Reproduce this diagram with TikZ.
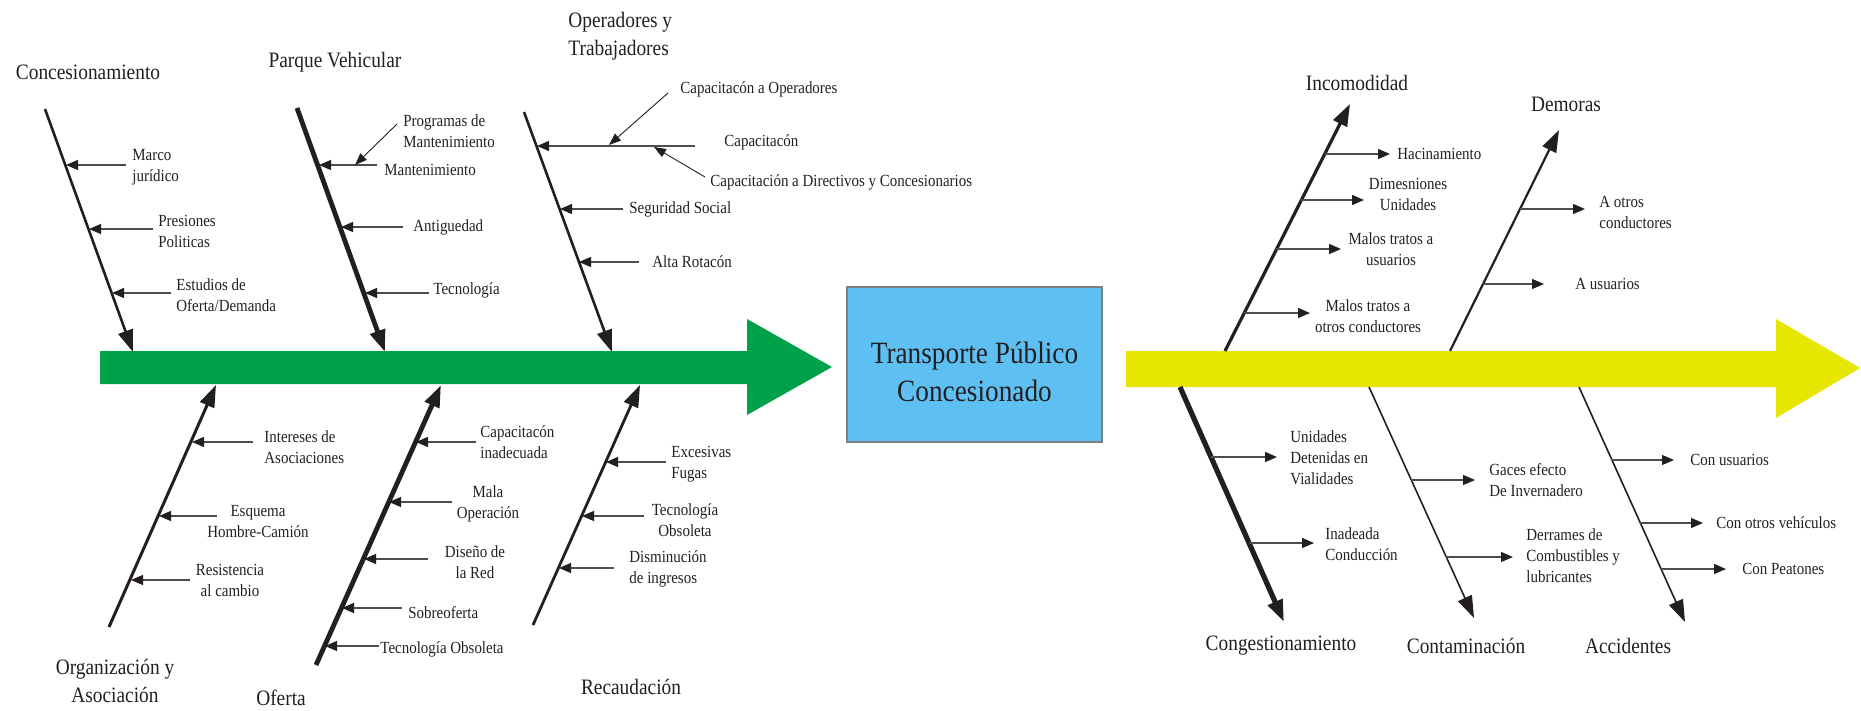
\documentclass[tikz,border=0pt]{standalone}
\usepackage{fontspec}
\setmainfont{Liberation Serif}[FakeStretch=0.88]
\usetikzlibrary{arrows.meta}
\definecolor{ink}{HTML}{231F20}
\definecolor{grn}{HTML}{00A14B}
\definecolor{ylw}{HTML}{E6E600}
\definecolor{bxblue}{HTML}{5EC0F2}
\definecolor{subgray}{HTML}{4D4D4D}
\begin{document}
\begin{tikzpicture}[x=0.5pt,y=-0.5pt,
  bone/.style={draw=ink,-{Triangle[length=11pt,width=7.5pt]}},
  twig/.style={draw=subgray,line width=0.6pt,-{Triangle[length=6pt,width=5pt,color=ink]}},
  pointer/.style={draw=ink,line width=0.45pt,-{Triangle[length=6pt,width=4.5pt]}},
  lbl/.style={font=\fontsize{8.5}{10.5}\selectfont,text=ink,inner sep=0pt},
  lw/.style={lbl,anchor=west,align=left},
  lc/.style={lbl,align=center},
  head/.style={font=\fontsize{11}{14}\selectfont,text=ink,inner sep=0pt,align=center},
  hw/.style={head,anchor=west,align=left}]
\useasboundingbox (0,0) rectangle (1861,711);

% ---- spines ----
\fill[grn] (100,351) -- (747,351) -- (747,319) -- (832,367) -- (747,415) -- (747,384) -- (100,384) -- cycle;
\fill[ylw] (1126,351) -- (1776,351) -- (1776,319) -- (1860,368) -- (1776,418) -- (1776,387) -- (1126,387) -- cycle;

% ---- central box ----
\node[draw=gray,line width=0.6pt,fill=bxblue,minimum width=127.5pt,minimum height=77.5pt,inner sep=0pt] (box) at (974.5,364.5) {};
\node[font=\fontsize{15.5}{19}\selectfont,text=ink,align=center,inner sep=0pt] (title) at (974.5,372) {Transporte Público\\Concesionado};

% ---- headings ----
\node[head] (h1) at (88,72) {Concesionamiento};
\node[head] (h2) at (335,62) {Parque Vehicular};
\node[hw] (h3) at (568,36) {Operadores y\\Trabajadores};
\node[head] (h4) at (115,681) {Organización y\\Asociación};
\node[head] (h5) at (281,698) {Oferta};
\node[head] (h6) at (631,687) {Recaudación};
\node[head] (h7) at (1357,83) {Incomodidad};
\node[head] (h8) at (1566,104) {Demoras};
\node[head] (h9) at (1281,646) {Congestionamiento};
\node[head] (h10) at (1466,646) {Contaminación};
\node[head] (h11) at (1628,646) {Accidentes};

% ---- bones ----
\coordinate (b1a) at (45,109);   \coordinate (b1b) at (133,352);
\coordinate (b2a) at (297,108);  \coordinate (b2b) at (385,352);
\coordinate (b3a) at (524,112);  \coordinate (b3b) at (612,352);
\coordinate (b4a) at (109,627);  \coordinate (b4b) at (216,385);
\coordinate (b5a) at (316,665);  \coordinate (b5b) at (441,385);
\coordinate (b6a) at (533,625);  \coordinate (b6b) at (640,385);
\coordinate (b7a) at (1225,351); \coordinate (b7b) at (1350,104);
\coordinate (b8a) at (1450,351); \coordinate (b8b) at (1559,130);
\coordinate (b9a) at (1180,387); \coordinate (b9b) at (1284,622);
\coordinate (b10a) at (1369,387); \coordinate (b10b) at (1474,618);
\coordinate (b11a) at (1579,387); \coordinate (b11b) at (1685,622);
\draw[bone,line width=1.3pt] (b1a) -- (b1b);
\draw[bone,line width=2.4pt] (b2a) -- (b2b);
\draw[bone,line width=1.3pt] (b3a) -- (b3b);
\draw[bone,line width=1.5pt] (b4a) -- (b4b);
\draw[bone,line width=2.4pt] (b5a) -- (b5b);
\draw[bone,line width=1.4pt] (b6a) -- (b6b);
\draw[bone,line width=1.6pt] (b7a) -- (b7b);
\draw[bone,line width=1.1pt] (b8a) -- (b8b);
\draw[bone,line width=2.6pt] (b9a) -- (b9b);
\draw[bone,line width=0.8pt] (b10a) -- (b10b);
\draw[bone,line width=0.8pt] (b11a) -- (b11b);

% ---- Concesionamiento ----
\node[lw] (l11) at (132,167) {Marco\\jurídico};
\node[lw] (l12) at (158,231) {Presiones\\Politicas};
\node[lw] (l13) at (176,295) {Estudios de\\Oferta/Demanda};
\draw[twig] (126,165) coordinate (t11a) -- (66,165) coordinate (t11b);
\draw[twig] (153,229) coordinate (t12a) -- (89,229) coordinate (t12b);
\draw[twig] (171,293) coordinate (t13a) -- (112,293) coordinate (t13b);

% ---- Parque Vehicular ----
\node[lw] (l21) at (403,131) {Programas de\\Mantenimiento};
\node[lw] (l22) at (384,170) {Mantenimiento};
\node[lw] (l23) at (413,227) {Antiguedad};
\node[lw] (l24) at (433,290) {Tecnología};
\draw[twig] (377,165) coordinate (t22a) -- (319,165) coordinate (t22b);
\draw[twig] (403,227) coordinate (t23a) -- (341,227) coordinate (t23b);
\draw[twig] (429,293) coordinate (t24a) -- (365,293) coordinate (t24b);
\draw[pointer] (397,124) coordinate (p21a) -- (355,165) coordinate (p21b);

% ---- Operadores y Trabajadores ----
\node[lw] (l31) at (680,89) {Capacitacón a Operadores};
\node[lw] (l32) at (724,142) {Capacitacón};
\node[lw] (l33) at (710,182) {Capacitación a Directivos y Concesionarios};
\node[lw] (l34) at (629,209) {Seguridad Social};
\node[lw] (l35) at (652,262) {Alta Rotacón};
\draw[twig] (695,146) coordinate (t32a) -- (537,146) coordinate (t32b);
\draw[twig] (623,209) coordinate (t34a) -- (560,209) coordinate (t34b);
\draw[twig] (639,262) coordinate (t35a) -- (579,262) coordinate (t35b);
\draw[pointer] (668,93) coordinate (p31a) -- (609,145) coordinate (p31b);
\draw[pointer] (705,177) coordinate (p33a) -- (654,147) coordinate (p33b);

% ---- Organización y Asociación ----
\node[lw] (l41) at (264,447) {Intereses de\\Asociaciones};
\node[lc] (l42) at (258,522) {Esquema\\Hombre-Camión};
\node[lc] (l43) at (230,580) {Resistencia\\al cambio};
\draw[twig] (253,442) coordinate (t41a) -- (192,442) coordinate (t41b);
\draw[twig] (217,516) coordinate (t42a) -- (159,516) coordinate (t42b);
\draw[twig] (190,580) coordinate (t43a) -- (131,580) coordinate (t43b);

% ---- Oferta ----
\node[lw] (l51) at (480,442) {Capacitacón\\inadecuada};
\node[lc] (l52) at (488,504) {Mala\\Operación};
\node[lc] (l53) at (475,562) {Diseño de\\la Red};
\node[lw] (l54) at (408,613) {Sobreoferta};
\node[lw] (l55) at (380,649) {Tecnología Obsoleta};
\draw[twig] (476,442) coordinate (t51a) -- (416,442) coordinate (t51b);
\draw[twig] (452,502) coordinate (t52a) -- (389,502) coordinate (t52b);
\draw[twig] (428,559) coordinate (t53a) -- (364,559) coordinate (t53b);
\draw[twig] (402,608) coordinate (t54a) -- (342,608) coordinate (t54b);
\draw[twig] (379,646) coordinate (t55a) -- (325,646) coordinate (t55b);

% ---- Recaudación ----
\node[lw] (l61) at (671,464) {Excesivas\\Fugas};
\node[lc] (l62) at (685,520) {Tecnología\\Obsoleta};
\node[lw] (l63) at (629,569) {Disminución\\de ingresos};
\draw[twig] (666,462) coordinate (t61a) -- (606,462) coordinate (t61b);
\draw[twig] (644,516) coordinate (t62a) -- (582,516) coordinate (t62b);
\draw[twig] (614,568) coordinate (t63a) -- (559,568) coordinate (t63b);

% ---- Incomodidad ----
\node[lw] (l71) at (1397,154) {Hacinamiento};
\node[lc] (l72) at (1408,194) {Dimesniones\\Unidades};
\node[lc] (l73) at (1391,249) {Malos tratos a\\usuarios};
\node[lc] (l74) at (1368,316) {Malos tratos a\\otros conductores};
\draw[twig] (1325,154) coordinate (t71a) -- (1390,154) coordinate (t71b);
\draw[twig] (1301,200) coordinate (t72a) -- (1364,200) coordinate (t72b);
\draw[twig] (1276,249) coordinate (t73a) -- (1341,249) coordinate (t73b);
\draw[twig] (1244,313) coordinate (t74a) -- (1310,313) coordinate (t74b);

% ---- Demoras ----
\node[lw] (l81) at (1599,212) {A otros\\conductores};
\node[lw] (l82) at (1575,284) {A usuarios};
\draw[twig] (1520,209) coordinate (t81a) -- (1585,209) coordinate (t81b);
\draw[twig] (1483,284) coordinate (t82a) -- (1544,284) coordinate (t82b);

% ---- Congestionamiento ----
\node[lw] (l91) at (1290,458) {Unidades\\Detenidas en\\Vialidades};
\node[lw] (l92) at (1325,544) {Inadeada\\Conducción};
\draw[twig] (1211,457) coordinate (t91a) -- (1277,457) coordinate (t91b);
\draw[twig] (1249,543) coordinate (t92a) -- (1314,543) coordinate (t92b);

% ---- Contaminación ----
\node[lw] (l101) at (1489,480) {Gaces efecto\\De Invernadero};
\node[lw] (l102) at (1526,556) {Derrames de\\Combustibles y\\lubricantes};
\draw[twig] (1411,480) coordinate (t101a) -- (1475,480) coordinate (t101b);
\draw[twig] (1446,557) coordinate (t102a) -- (1513,557) coordinate (t102b);

% ---- Accidentes ----
\node[lw] (l111) at (1690,460) {Con usuarios};
\node[lw] (l112) at (1716,523) {Con otros vehículos};
\node[lw] (l113) at (1742,569) {Con Peatones};
\draw[twig] (1611,460) coordinate (t111a) -- (1674,460) coordinate (t111b);
\draw[twig] (1640,523) coordinate (t112a) -- (1703,523) coordinate (t112b);
\draw[twig] (1661,569) coordinate (t113a) -- (1726,569) coordinate (t113b);
\end{tikzpicture}
\end{document}
